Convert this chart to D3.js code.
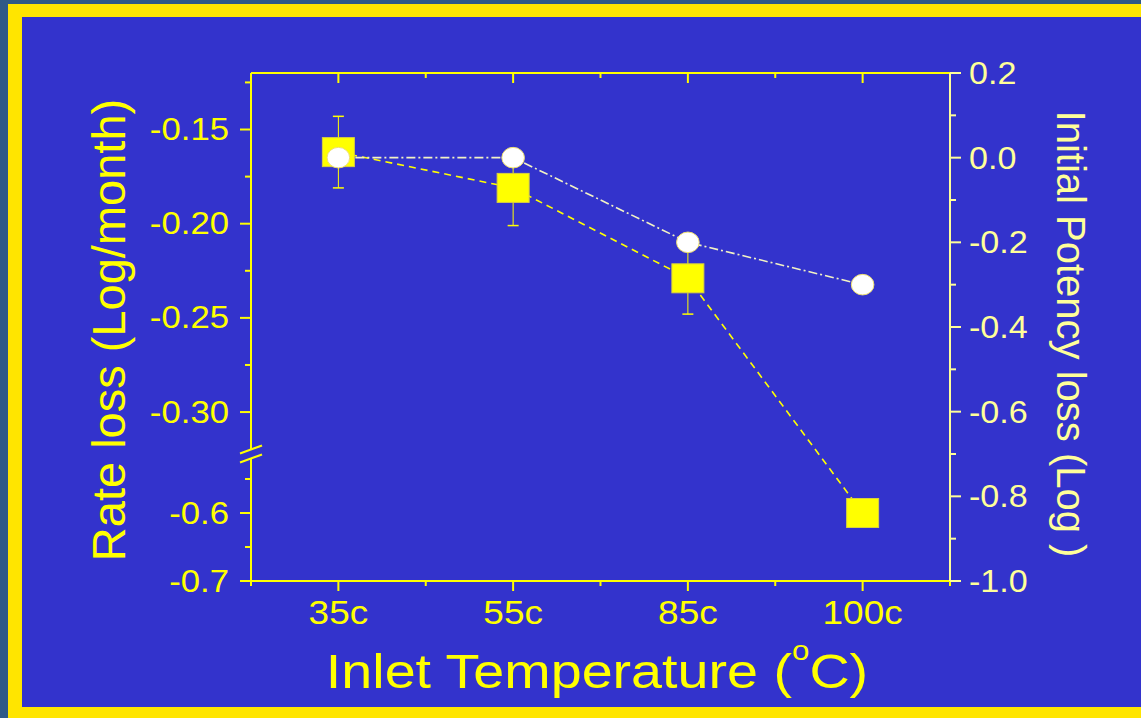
<!DOCTYPE html>
<html>
<head>
<meta charset="utf-8">
<script src="https://cdn.jsdelivr.net/npm/d3@7"></script>
<style>
html,body{margin:0;padding:0;background:#2f5987;overflow:hidden;}
svg{display:block;font-family:"Liberation Sans",Arial,sans-serif;}
</style>
</head>
<body>
<script>
// chart data
const categories=["35c","55c","85c","100c"];
const rateLoss=[-0.162,-0.181,-0.229,-0.600];
const rateErr=[0.019,0.020,0.019,0.019];
const potencyLoss=[0.0,0.0,-0.2,-0.3];
const leftMajor=[-0.15,-0.20,-0.25,-0.30,-0.6,-0.7];
const leftLabels=["-0.15","-0.20","-0.25","-0.30","-0.6","-0.7"];
const leftMinor=[-0.125,-0.175,-0.225,-0.275,-0.55,-0.65];
const rightMajor=[0.2,0.0,-0.2,-0.4,-0.6,-0.8,-1.0];
const rightLabels=["0.2","0.0","-0.2","-0.4","-0.6","-0.8","-1.0"];
const rightMinor=[0.1,-0.1,-0.3,-0.5,-0.7,-0.9];

const w=1141,h=718;
const yel="#ffff00",pale="#ffff99",blue="#3333cc";
const svg=d3.select("body").append("svg").attr("width",w).attr("height",h);

// frame
svg.append("rect").attr("x",8).attr("y",4).attr("width",w-8).attr("height",h-4).attr("fill","#ffe500");
svg.append("rect").attr("x",22).attr("y",17).attr("width",w-22).attr("height",707-17).attr("fill",blue);

const L=251,R=950,T=73,B=581,brk=453.5;
const x=d3.scaleLinear().domain([-0.5,3.5]).range([L,R]);
// broken left axis: upper and lower segment
const y=d3.scaleLinear().domain([-0.7,-0.5125,-0.322,-0.12]).range([B,brk,brk,T]);
const y2=d3.scaleLinear().domain([-1,0.2]).range([B,T]);

const g=svg.append("g");
// axis lines
g.append("line").attr("x1",L).attr("x2",R).attr("y1",B).attr("y2",B).attr("stroke",yel).attr("stroke-width",2);
g.append("line").attr("x1",L).attr("x2",R).attr("y1",T).attr("y2",T).attr("stroke",yel).attr("stroke-width",2);
g.append("line").attr("x1",L).attr("x2",L).attr("y1",T).attr("y2",B).attr("stroke",yel).attr("stroke-width",2);
g.append("line").attr("x1",R).attr("x2",R).attr("y1",T).attr("y2",B).attr("stroke",pale).attr("stroke-width",2);

const xMinor=[-0.5,0.5,1.5,2.5,3.5];
// x ticks bottom (out) and top (in)
g.selectAll(".xt").data(categories).join("line").attr("class","xt")
  .attr("x1",(d,i)=>x(i)).attr("x2",(d,i)=>x(i)).attr("y1",B).attr("y2",B+10).attr("stroke",yel).attr("stroke-width",2);
g.selectAll(".xtt").data(categories).join("line").attr("class","xtt")
  .attr("x1",(d,i)=>x(i)).attr("x2",(d,i)=>x(i)).attr("y1",T).attr("y2",T+10).attr("stroke",yel).attr("stroke-width",2);
g.selectAll(".xm").data(xMinor).join("line").attr("class","xm")
  .attr("x1",d=>x(d)).attr("x2",d=>x(d)).attr("y1",B).attr("y2",B+5).attr("stroke",yel).attr("stroke-width",2);
g.selectAll(".xmt").data(xMinor.slice(1,4)).join("line").attr("class","xmt")
  .attr("x1",d=>x(d)).attr("x2",d=>x(d)).attr("y1",T).attr("y2",T+5).attr("stroke",yel).attr("stroke-width",2);

// left ticks
g.selectAll(".lt").data(leftMajor).join("line").attr("class","lt")
  .attr("x1",L-11).attr("x2",L).attr("y1",d=>y(d)).attr("y2",d=>y(d)).attr("stroke",yel).attr("stroke-width",2);
g.selectAll(".lm").data(leftMinor).join("line").attr("class","lm")
  .attr("x1",L-6).attr("x2",L).attr("y1",d=>y(d)).attr("y2",d=>y(d)).attr("stroke",yel).attr("stroke-width",2);
g.selectAll(".ll").data(leftMajor).join("text").attr("class","ll")
  .attr("transform",d=>`translate(229,${y(d)+10.5}) scale(1.12,1)`)
  .attr("text-anchor","end").attr("font-size",31).attr("fill",yel)
  .text((d,i)=>leftLabels[i]);

// right ticks
g.selectAll(".rt").data(rightMajor).join("line").attr("class","rt")
  .attr("x1",R).attr("x2",R+11).attr("y1",d=>y2(d)).attr("y2",d=>y2(d)).attr("stroke",pale).attr("stroke-width",2);
g.selectAll(".rm").data(rightMinor).join("line").attr("class","rm")
  .attr("x1",R).attr("x2",R+6).attr("y1",d=>y2(d)).attr("y2",d=>y2(d)).attr("stroke",pale).attr("stroke-width",2);
g.selectAll(".rl").data(rightMajor).join("text").attr("class","rl")
  .attr("transform",d=>`translate(969,${y2(d)+11}) scale(1.1,1)`)
  .attr("font-size",31).attr("fill",pale)
  .text((d,i)=>rightLabels[i]);

// axis break marks
const bx=L,by=brk;
svg.append("polygon").attr("points",`${bx-11},${by} ${bx+11},${by-9} ${bx+11},${by} ${bx-11},${by+9}`).attr("fill",blue);
svg.append("line").attr("x1",bx-11).attr("y1",by).attr("x2",bx+11).attr("y2",by-8).attr("stroke",yel).attr("stroke-width",2);
svg.append("line").attr("x1",bx-11).attr("y1",by+9).attr("x2",bx+11).attr("y2",by+1).attr("stroke",yel).attr("stroke-width",2);

// x tick labels
g.selectAll(".xl").data(categories).join("text").attr("class","xl")
  .attr("transform",(d,i)=>`translate(${x(i)},624) scale(1.12,1)`)
  .attr("text-anchor","middle").attr("font-size",33).attr("fill",yel).text(d=>d);

// titles
const xt=svg.append("text").attr("transform","translate(597,688) scale(1.16,1)")
  .attr("text-anchor","middle").attr("font-size",48).attr("fill",yel);
xt.append("tspan").text("Inlet Temperature (");
xt.append("tspan").attr("font-size",27).attr("dy",-28).text("o");
xt.append("tspan").attr("dy",28).text("C)");

svg.append("text").attr("transform","translate(125,330) rotate(-90)")
  .attr("text-anchor","middle").attr("font-size",47).attr("fill",yel).text("Rate loss (Log/month)");
svg.append("text").attr("transform","translate(1057,334) rotate(90)")
  .attr("text-anchor","middle").attr("font-size",40).attr("fill",pale).text("Initial Potency loss (Log )");

// lines
const pts1=rateLoss.map((v,i)=>[x(i),y(v)]);
const pts2=potencyLoss.map((v,i)=>[x(i),y2(v)]);
svg.append("path").attr("d",d3.line()(pts1)).attr("fill","none").attr("stroke",yel)
  .attr("stroke-width",1.6).attr("stroke-dasharray","7,5");
svg.append("path").attr("d",d3.line()(pts2)).attr("fill","none").attr("stroke","#f2f2c4")
  .attr("stroke-width",1.6).attr("stroke-dasharray","9,3,2,3");

// error bars
const eb=svg.append("g").attr("stroke",yel).attr("stroke-width",1);
rateLoss.forEach((v,i)=>{
  const cx=x(i),y0=y(v+rateErr[i]),y1=y(v-rateErr[i]);
  eb.append("line").attr("x1",cx).attr("x2",cx).attr("y1",y0).attr("y2",y1);
  eb.append("line").attr("x1",cx-5.5).attr("x2",cx+5.5).attr("y1",y0).attr("y2",y0).attr("stroke-width",1.5);
  eb.append("line").attr("x1",cx-5.5).attr("x2",cx+5.5).attr("y1",y1).attr("y2",y1).attr("stroke-width",1.5);
});

// markers
svg.selectAll(".sq").data(rateLoss).join("rect").attr("class","sq")
  .attr("x",(d,i)=>x(i)-16).attr("y",d=>y(d)-14.5).attr("width",32).attr("height",29)
  .attr("fill",yel).attr("stroke","#d8d040").attr("stroke-width",1);
svg.selectAll(".ci").data(potencyLoss).join("ellipse").attr("class","ci")
  .attr("cx",(d,i)=>x(i)).attr("cy",d=>y2(d)).attr("rx",11.3).attr("ry",10.3)
  .attr("fill","#ffffff").attr("stroke","#eee070").attr("stroke-width",1);
</script>
</body>
</html>
